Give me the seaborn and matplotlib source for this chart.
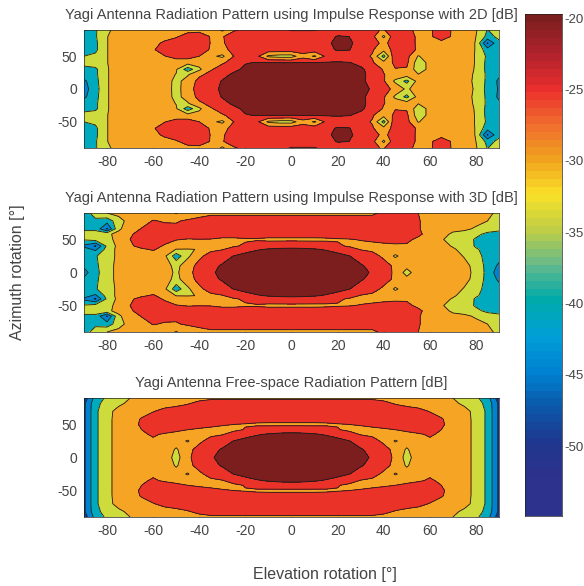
import numpy as np
import seaborn as sns
import matplotlib
matplotlib.use('Agg')
import matplotlib.pyplot as plt

# axes values
elev = list(range(-90, 95, 5))
az_1 = [0, 12, 22, 30, 40, 50, 60, 70, 80, 90]
az_2 = [0, 10, 25, 35, 40, 50, 58, 66, 78, 90]
az_3 = [0, 12, 25, 35, 42, 50, 58, 70, 82, 90]

# dB values, top half only (azimuth >= 0), pattern is mirrored
pattern_2d = [
    [-47,-42,-35.5,-32,-31,-31,-31,-32,-37,-32,-28,-26,-24.5,-23,-22,-21,-20.5,-20,-20,-20,-20.5,-21,-21.5,-22,-23.5,-25.5,-28,-31.5,-36,-32,-31,-31,-31,-32,-36,-41.5,-45.5],
    [-46,-41.5,-35.5,-32,-31,-31,-31,-32.5,-36.5,-33,-28.5,-26.3,-24.8,-23.5,-22.5,-21.5,-20.8,-20.5,-20.5,-20.5,-20.8,-21.3,-21.8,-22.5,-24,-26.5,-29.5,-36,-41.5,-33,-31.5,-31,-31,-32.3,-36.5,-41,-46],
    [-42,-41,-35.5,-32,-31,-31,-31.5,-33,-35.2,-35.5,-31,-28.5,-26,-24.4,-23.5,-22.8,-22.5,-22,-22,-22,-22.2,-22.5,-22.8,-23,-23.8,-26.5,-29.8,-32,-32.5,-34.8,-31.5,-30.8,-31,-32.5,-36,-41,-44],
    [-40.5,-41,-35.5,-32,-31,-31,-31.5,-32.5,-34.5,-43,-36,-30.5,-28,-25.8,-24.3,-23.7,-23.3,-23,-23,-23,-23,-23.2,-23.4,-23.6,-24.3,-26.5,-30.5,-30.2,-30.5,-38,-33.5,-30.8,-31,-32.7,-35.5,-41.5,-44],
    [-39.5,-37.5,-35.2,-32,-31,-31,-31.5,-32,-33,-33,-33,-31,-30.5,-28.5,-25.2,-24.8,-24.8,-24.8,-24.9,-24.8,-24.7,-24.6,-24.5,-24.8,-26,-29.5,-33,-29,-29,-38,-33.5,-31,-31,-33,-35.3,-41.5,-42],
    [-40,-39,-35.2,-32,-31,-30.8,-30.5,-30.2,-28,-28,-30,-34,-36,-30,-28.5,-29,-36,-37,-37,-32,-35.8,-29,-27.8,-27.5,-28.8,-30.3,-42,-25.5,-28.5,-35.4,-32,-31,-31,-33,-35.3,-41,-41],
    [-41,-41,-35.2,-32,-31,-30.5,-30.5,-27.5,-27,-27,-27.5,-30.5,-31.5,-28.5,-27,-26.8,-27,-27,-27,-27,-27,-26.5,-24.5,-24.8,-27,-29.5,-33,-28,-28.5,-30.5,-31,-31,-31,-32.2,-35.3,-43,-41],
    [-41,-41,-35.2,-32,-31,-31,-30.8,-29.5,-27.5,-27,-27,-30.2,-30.5,-28,-27,-27,-27,-27,-27,-27,-26.8,-25.8,-24,-24.3,-26.5,-28.5,-31,-28,-28.5,-30.6,-31,-31,-31,-32.2,-35.3,-50.5,-41],
    [-42,-40.5,-35.2,-32,-31,-31,-31,-31,-30.5,-28,-27.5,-30.3,-30.3,-28,-27.5,-27.5,-27.5,-27.5,-27.5,-27.5,-27.3,-27,-24.6,-25,-27,-28.5,-36,-26,-28.5,-30.6,-30.5,-28.5,-30.4,-32.5,-35,-41.5,-39],
    [-42,-40.5,-36,-33,-31.5,-31.5,-31.5,-31.5,-31.5,-31.5,-31.3,-31,-36,-30.5,-29,-28.5,-28,-29,-30.3,-30.3,-30.3,-29,-28,-28,-28,-29,-30.5,-25,-29,-31,-30.6,-28,-30.4,-32,-34.5,-40.2,-37],
]

pattern_3d = [
    [-47,-41.5,-37,-33.5,-32,-31.5,-31.5,-32.5,-36,-31.5,-28,-25.5,-24.2,-23.2,-22.3,-21.5,-20.8,-20.2,-20,-20.2,-20.8,-21.5,-22.3,-23.2,-24.2,-25.3,-27.5,-31,-37,-32,-31,-31,-31.5,-33,-36.5,-41.5,-48],
    [-44,-41,-37,-33.5,-32,-31.5,-31.5,-33,-36.5,-32,-28.5,-26,-24.6,-23.6,-22.8,-22,-21.2,-20.7,-20.5,-20.7,-21.2,-22,-22.8,-23.7,-24.6,-26,-28,-31,-33.5,-31.5,-31,-31,-31.5,-33.2,-37,-41.5,-46],
    [-41,-40.5,-37,-34,-32,-31.5,-32,-34,-43,-36,-31,-28.2,-26.5,-24.9,-24,-23.3,-22.7,-22.2,-22,-22.2,-22.7,-23.3,-24,-24.9,-26.5,-28.2,-31,-35.8,-32.5,-31.5,-31,-31,-32.5,-35.5,-38.5,-41.5,-43],
    [-43,-46,-38,-33.5,-32,-30.5,-29.6,-31.5,-35.2,-35.3,-34.8,-31,-30.3,-28,-26.2,-25.3,-24.7,-24.2,-24,-24.2,-24.7,-25.3,-26.2,-28,-30.3,-31,-32,-32,-30.8,-30.2,-31,-31.5,-34.2,-37,-39.5,-41.5,-44],
    [-46,-50.5,-39,-33.5,-30.5,-29,-28.5,-30.5,-32,-32.5,-31.5,-31,-31,-30.5,-29.3,-27.7,-27,-26.8,-26.7,-26.8,-27,-27.7,-29.3,-30.5,-31,-31,-30.8,-30.5,-30.3,-31,-32,-33,-35.5,-37.5,-40.5,-42,-44],
    [-39.5,-38,-37,-33,-30,-28,-27.5,-28.5,-29.8,-30.2,-30.1,-30.2,-31,-31,-30.5,-30.5,-31,-31,-31,-31,-31,-30.8,-30.4,-30.2,-29.8,-29.4,-29,-29,-29.5,-30.5,-31.5,-34.5,-37,-38,-40.5,-42,-43],
    [-38,-37,-36,-33.5,-30.5,-28.5,-27.8,-28.3,-29,-28.3,-28,-27.8,-27.8,-27.8,-27.8,-27.8,-27.8,-27.8,-27.8,-27.8,-27.8,-27.8,-27.8,-27.8,-27.8,-27.8,-28,-28.2,-28.5,-29.5,-31,-33,-36,-37.5,-39,-41,-41.5],
    [-41,-41.5,-50.5,-36,-31.8,-29.8,-28,-29,-29.5,-29.5,-28.5,-28,-28,-28,-28,-28,-28,-28,-28,-28,-28,-28,-28,-28,-28,-28,-28,-28,-28.5,-29.7,-31.5,-33,-33.5,-33.8,-35.8,-38,-39],
    [-41,-41,-43,-37,-33,-31.5,-29.8,-30.3,-30.2,-29.7,-29.2,-28.8,-28.8,-28.8,-28.8,-28.8,-28.8,-28.8,-28.8,-28.8,-28.8,-28.8,-28.8,-28.8,-28.8,-28.8,-28.8,-28.8,-29,-29.7,-31.5,-32.5,-32.8,-33,-33.2,-35,-40],
    [-42,-38,-35,-33.5,-32.5,-32,-32,-32,-35.5,-31.5,-31,-30.5,-30.5,-30.5,-30.5,-30.5,-30.5,-30.5,-30.5,-30.5,-30.5,-30.5,-30.5,-30.5,-30.5,-30.5,-29.5,-29.5,-29.5,-30,-31.5,-32,-32,-32.2,-32.5,-34,-36],
]

# free space is symmetric in elevation too, so only elevation >= 0 is listed
pattern_free = [
    [-20,-20.2,-20.8,-21.5,-22.3,-23.2,-24.2,-25.3,-27.5,-31,-37,-32,-31,-31,-31.5,-33,-36.5,-41,-51],
    [-20.8,-21,-21.5,-22.2,-23,-23.8,-24.7,-26,-28.2,-31.5,-35.6,-32,-31,-31,-31.5,-33,-36.5,-41,-51],
    [-22,-22.2,-22.7,-23.3,-24,-24.9,-26.5,-28.2,-31,-35.5,-32.8,-31,-30.5,-30.7,-31.5,-33,-36.5,-41,-51],
    [-24,-24.2,-24.7,-25.3,-26.2,-28,-30.3,-31,-31,-31.5,-31,-30.4,-29.6,-30.5,-31.5,-33,-36.5,-41,-51],
    [-27,-27,-27.2,-27.8,-29.7,-31,-31.3,-31,-30.5,-30,-29.3,-28.6,-28,-30,-31.3,-33,-36.5,-41,-51],
    [-31,-31,-31,-30.8,-30.3,-30,-29.6,-29,-28.6,-28.2,-28,-27.8,-27.5,-29.5,-31.3,-33,-36.5,-41,-51],
    [-28,-28,-28,-28,-28,-28,-28,-28,-28,-28,-27.8,-27.8,-28,-29.7,-31.5,-33,-36.5,-41,-51],
    [-28,-28,-28,-28,-28,-28,-28,-28,-28,-28,-28.5,-29,-30.2,-31.3,-32,-33.5,-36.5,-41,-51],
    [-28.8,-28.8,-28.8,-28.8,-28.8,-28.8,-28.8,-28.8,-29.2,-30.3,-31,-31.5,-32,-32.5,-34,-36,-38,-41.5,-51],
    [-30.5,-30.5,-30.5,-30.5,-30.5,-30.5,-30.5,-30.5,-31,-31.5,-32,-32.5,-33,-33.8,-35,-37,-39,-43,-53],
]

titles = ['Yagi Antenna Radiation Pattern using Impulse Response with 2D [dB]',
          'Yagi Antenna Radiation Pattern using Impulse Response with 3D [dB]',
          'Yagi Antenna Free-space Radiation Pattern [dB]']
x_ticks = [-80, -60, -40, -20, 0, 20, 40, 60, 80]
y_ticks = [-50, 0, 50]
cbar_ticks = [-20, -25, -30, -35, -40, -45, -50]

levels = [-60, -50, -45, -40, -35, -30, -25, -15]
band_colors = ['#1e328c', '#0082d2', '#00aabe', '#cddc3c', '#f5a523', '#eb3229', '#7d1e1e']
cbar_colors = ['#2d328c', '#2d328c', '#1e378f', '#0a5aaa', '#0082d2', '#00a0d7', '#00aaaa',
               '#64b98c', '#bece46', '#fae128', '#f0a01e', '#f06e2d', '#eb2d2d', '#af232d', '#7d1e1e']

sns.set_style('white')
plt.rcParams['font.family'] = ['Liberation Sans']
plt.rcParams['axes.unicode_minus'] = False
plt.rcParams['text.color'] = '#444444'
plt.rcParams['axes.labelcolor'] = '#444444'
plt.rcParams['xtick.color'] = '#444444'
plt.rcParams['ytick.color'] = '#444444'

W, H = 584, 586
fig = plt.figure(figsize=(W / 100, H / 100), dpi=100)


def px_axes(left, top, right, bottom):
    return fig.add_axes([left / W, 1 - bottom / H, (right - left) / W, (bottom - top) / H])


def mirror(az, half):
    az = np.array(az, dtype=float)
    half = np.array(half, dtype=float)
    return np.r_[-az[:0:-1], az], np.vstack([half[:0:-1], half])


def draw_panel(ax, x, az, half, title):
    y, z = mirror(az, half)
    ax.contourf(x, y, z, levels=levels, colors=band_colors)
    ax.contour(x, y, z, levels=levels[1:-1], colors='#1a1a1a', linewidths=0.6,
               negative_linestyles='solid')
    ax.set_xlim(-90, 90)
    ax.set_ylim(-90, 90)
    ax.set_xticks(x_ticks)
    ax.set_yticks(y_ticks)
    ax.tick_params(direction='in', length=3, width=0.5, labelsize=10, pad=5, bottom=True, left=True)
    ax.set_title(title, fontsize=10.5, pad=8)
    for s in ax.spines.values():
        s.set_linewidth(0.5)
        s.set_color('#222222')


free_full = np.hstack([np.array(pattern_free)[:, :0:-1], np.array(pattern_free)])

draw_panel(px_axes(84, 30, 499, 148), elev, az_1, pattern_2d, titles[0])
draw_panel(px_axes(84, 213, 499, 332), elev, az_2, pattern_3d, titles[1])
draw_panel(px_axes(84, 398, 499, 517), elev, az_3, free_full, titles[2])

# colorbar strip
cax = px_axes(525, 14, 562, 516)
c_top, c_bottom = -19.7, -54.9
strip = np.linspace(c_top, c_bottom, 64).reshape(-1, 1)
cmap = sns.blend_palette(cbar_colors, n_colors=64, as_cmap=True)
sns.heatmap(strip, ax=cax, cmap=cmap, vmin=c_bottom, vmax=c_top, cbar=False, xticklabels=False)
cax.set_yticks([(c_top - v) / (c_top - c_bottom) * 64 for v in cbar_ticks])
cax.set_yticklabels([str(v) for v in cbar_ticks], rotation=0)
cax.yaxis.tick_right()
cax.tick_params(axis='y', direction='in', length=3, width=0.5, labelsize=9.5, pad=1.5, right=True)
for s in cax.spines.values():
    s.set_visible(True)
    s.set_linewidth(0.5)
    s.set_color('#222222')

fig.text(18 / W, 1 - 272 / H, 'Azimuth rotation [°]', rotation=90, ha='center', va='center', fontsize=11.5)
fig.text(325 / W, 1 - 574 / H, 'Elevation rotation [°]', ha='center', va='center', fontsize=11.5)

fig.savefig('out.png', dpi=100)
